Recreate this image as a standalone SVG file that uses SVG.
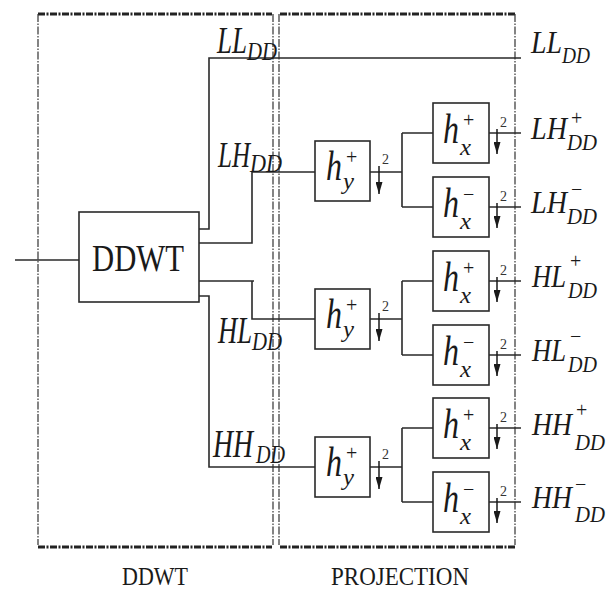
<svg xmlns="http://www.w3.org/2000/svg" width="610" height="591" viewBox="0 0 610 591">
<defs>
<marker id="down" viewBox="0 0 10 10" preserveAspectRatio="none" refX="10" refY="5" markerWidth="12" markerHeight="7" markerUnits="userSpaceOnUse" orient="auto"><path d="M0,0 L10,5 L0,10 z" fill="#1a1a1a"/></marker>
</defs>
<style>
.wire{fill:none;stroke:#2a2a2a;stroke-width:1.6}
.box{fill:#fff;stroke:#2a2a2a;stroke-width:1.6}
.fh{stroke:#222;stroke-width:3;stroke-dasharray:7 1.5 2 1.5;fill:none}
.fv{stroke:#333;stroke-width:1.2;stroke-dasharray:8 1.5 1.5 1.5;fill:none}
.it{font-family:"Liberation Serif","DejaVu Serif",serif;font-style:italic;fill:#1a1a1a}
.rm{font-family:"Liberation Serif","DejaVu Serif",serif;fill:#1a1a1a}
.up{font-style:normal}
.ds{stroke:#1a1a1a;stroke-width:1.5;marker-end:url(#down)}
.sm{font-family:"Liberation Serif","DejaVu Serif",serif;font-size:14px;fill:#333}
</style>
<rect width="610" height="591" fill="#fff"/>

<g id="frame-ddwt">
<line class="fh" x1="38" y1="14" x2="272" y2="14"/>
<line class="fh" x1="38" y1="547" x2="272" y2="547"/>
<line class="fv" x1="38" y1="14" x2="38" y2="545"/>
<line class="fv" x1="273" y1="14" x2="273" y2="545"/>
<text class="rm" x="122" y="585" font-size="25" textLength="66" lengthAdjust="spacingAndGlyphs">DDWT</text>
</g>
<g id="frame-projection">
<line class="fh" x1="280" y1="14" x2="515" y2="14"/>
<line class="fh" x1="280" y1="547" x2="515" y2="547"/>
<line class="fv" x1="279" y1="14" x2="279" y2="545"/>
<line class="fv" x1="515" y1="14" x2="515" y2="545"/>
<text class="rm" x="331" y="585" font-size="25" textLength="138" lengthAdjust="spacingAndGlyphs">PROJECTION</text>
</g>

<g id="connectors">
<path class="wire" d="M15,260 H79"/>
<path class="wire" d="M199,229 H209 V58 H521"/>
<path class="wire" d="M199,243 H252 V172 H315"/>
<path class="wire" d="M199,281 H254 M252,281 V319 H315"/>
<path class="wire" d="M199,296 H209 V467 H315"/>
<path class="wire" d="M370,172 H402 M402,133 V207 M402,133 H433 M402,207 H433"/>
<path class="wire" d="M489,133 H521 M489,207 H521"/>
<path class="wire" d="M370,319 H402 M402,281 V355 M402,281 H433 M402,355 H433"/>
<path class="wire" d="M489,281 H521 M489,355 H521"/>
<path class="wire" d="M370,467 H402 M402,428 V502 M402,428 H433 M402,502 H433"/>
<path class="wire" d="M489,428 H521 M489,502 H521"/>
<line class="ds" x1="379" y1="166" x2="379" y2="194"/><text class="sm" x="382" y="164">2</text>
<line class="ds" x1="379" y1="313" x2="379" y2="341"/><text class="sm" x="382" y="311">2</text>
<line class="ds" x1="379" y1="461" x2="379" y2="489"/><text class="sm" x="382" y="459">2</text>
<line class="ds" x1="497" y1="129" x2="497" y2="154"/><text class="sm" x="500" y="127">2</text>
<line class="ds" x1="497" y1="203" x2="497" y2="228"/><text class="sm" x="500" y="201">2</text>
<line class="ds" x1="497" y1="277" x2="497" y2="302"/><text class="sm" x="500" y="275">2</text>
<line class="ds" x1="497" y1="351" x2="497" y2="376"/><text class="sm" x="500" y="349">2</text>
<line class="ds" x1="497" y1="424" x2="497" y2="449"/><text class="sm" x="500" y="422">2</text>
<line class="ds" x1="497" y1="498" x2="497" y2="523"/><text class="sm" x="500" y="496">2</text>
</g>

<g id="ddwt">
<rect class="box" x="79" y="212" width="120" height="90"/>
<text class="rm" x="92" y="271" font-size="38" textLength="92" lengthAdjust="spacingAndGlyphs">DDWT</text>
</g>

<g id="hy-lh">
<rect class="box" x="315" y="141" width="55" height="60"/>
<text class="it"><tspan x="326" y="180" font-size="42" textLength="16" lengthAdjust="spacingAndGlyphs">h</tspan><tspan class="up" x="346" y="164" font-size="20">+</tspan><tspan x="343" y="189" font-size="24" textLength="11" lengthAdjust="spacingAndGlyphs">y</tspan></text>
</g>
<g id="hx-lh-plus">
<rect class="box" x="433" y="103" width="56" height="60"/>
<text class="it"><tspan x="443" y="143" font-size="42" textLength="16" lengthAdjust="spacingAndGlyphs">h</tspan><tspan class="up" x="463" y="127" font-size="20">+</tspan><tspan x="460" y="155" font-size="24" textLength="11" lengthAdjust="spacingAndGlyphs">x</tspan></text>
</g>
<g id="hx-lh-minus">
<rect class="box" x="433" y="177" width="56" height="60"/>
<text class="it"><tspan x="443" y="217" font-size="42" textLength="16" lengthAdjust="spacingAndGlyphs">h</tspan><tspan class="up" x="463" y="201" font-size="20">−</tspan><tspan x="460" y="229" font-size="24" textLength="11" lengthAdjust="spacingAndGlyphs">x</tspan></text>
</g>

<g id="hy-hl">
<rect class="box" x="315" y="289" width="55" height="60"/>
<text class="it"><tspan x="326" y="328" font-size="42" textLength="16" lengthAdjust="spacingAndGlyphs">h</tspan><tspan class="up" x="346" y="312" font-size="20">+</tspan><tspan x="343" y="337" font-size="24" textLength="11" lengthAdjust="spacingAndGlyphs">y</tspan></text>
</g>
<g id="hx-hl-plus">
<rect class="box" x="433" y="251" width="56" height="60"/>
<text class="it"><tspan x="443" y="291" font-size="42" textLength="16" lengthAdjust="spacingAndGlyphs">h</tspan><tspan class="up" x="463" y="275" font-size="20">+</tspan><tspan x="460" y="303" font-size="24" textLength="11" lengthAdjust="spacingAndGlyphs">x</tspan></text>
</g>
<g id="hx-hl-minus">
<rect class="box" x="433" y="325" width="56" height="60"/>
<text class="it"><tspan x="443" y="365" font-size="42" textLength="16" lengthAdjust="spacingAndGlyphs">h</tspan><tspan class="up" x="463" y="349" font-size="20">−</tspan><tspan x="460" y="377" font-size="24" textLength="11" lengthAdjust="spacingAndGlyphs">x</tspan></text>
</g>

<g id="hy-hh">
<rect class="box" x="315" y="437" width="55" height="60"/>
<text class="it"><tspan x="326" y="476" font-size="42" textLength="16" lengthAdjust="spacingAndGlyphs">h</tspan><tspan class="up" x="346" y="460" font-size="20">+</tspan><tspan x="343" y="485" font-size="24" textLength="11" lengthAdjust="spacingAndGlyphs">y</tspan></text>
</g>
<g id="hx-hh-plus">
<rect class="box" x="433" y="398" width="56" height="60"/>
<text class="it"><tspan x="443" y="438" font-size="42" textLength="16" lengthAdjust="spacingAndGlyphs">h</tspan><tspan class="up" x="463" y="422" font-size="20">+</tspan><tspan x="460" y="450" font-size="24" textLength="11" lengthAdjust="spacingAndGlyphs">x</tspan></text>
</g>
<g id="hx-hh-minus">
<rect class="box" x="433" y="472" width="56" height="60"/>
<text class="it"><tspan x="443" y="512" font-size="42" textLength="16" lengthAdjust="spacingAndGlyphs">h</tspan><tspan class="up" x="463" y="496" font-size="20">−</tspan><tspan x="460" y="524" font-size="24" textLength="11" lengthAdjust="spacingAndGlyphs">x</tspan></text>
</g>

<g id="labels-left">
<text class="it"><tspan x="217" y="53" font-size="38" textLength="30" lengthAdjust="spacingAndGlyphs">LL</tspan><tspan x="247" y="60" font-size="26" textLength="30" lengthAdjust="spacingAndGlyphs">DD</tspan></text>
<text class="it"><tspan x="218" y="167" font-size="36" textLength="32" lengthAdjust="spacingAndGlyphs">LH</tspan><tspan x="250" y="172" font-size="26" textLength="32" lengthAdjust="spacingAndGlyphs">DD</tspan></text>
<text class="it"><tspan x="218" y="343" font-size="38" textLength="34" lengthAdjust="spacingAndGlyphs">HL</tspan><tspan x="252" y="350" font-size="26" textLength="30" lengthAdjust="spacingAndGlyphs">DD</tspan></text>
<text class="it"><tspan x="213" y="457" font-size="40" textLength="40" lengthAdjust="spacingAndGlyphs">HH</tspan><tspan x="256" y="463" font-size="26" textLength="29" lengthAdjust="spacingAndGlyphs">DD</tspan></text>
</g>

<g id="labels-right">
<text class="it"><tspan x="531" y="53" font-size="32" textLength="31" lengthAdjust="spacingAndGlyphs">LL</tspan><tspan x="562" y="63" font-size="24" textLength="28" lengthAdjust="spacingAndGlyphs">DD</tspan></text>
<text class="it"><tspan x="531" y="139" font-size="32" textLength="36" lengthAdjust="spacingAndGlyphs">LH</tspan><tspan class="up" x="571" y="125" font-size="20">+</tspan><tspan x="567" y="150" font-size="24" textLength="30" lengthAdjust="spacingAndGlyphs">DD</tspan></text>
<text class="it"><tspan x="531" y="213" font-size="32" textLength="36" lengthAdjust="spacingAndGlyphs">LH</tspan><tspan class="up" x="571" y="196" font-size="20">−</tspan><tspan x="567" y="224" font-size="24" textLength="30" lengthAdjust="spacingAndGlyphs">DD</tspan></text>
<text class="it"><tspan x="532" y="287" font-size="32" textLength="34" lengthAdjust="spacingAndGlyphs">HL</tspan><tspan class="up" x="570" y="268" font-size="20">+</tspan><tspan x="568" y="298" font-size="24" textLength="29" lengthAdjust="spacingAndGlyphs">DD</tspan></text>
<text class="it"><tspan x="532" y="361" font-size="32" textLength="34" lengthAdjust="spacingAndGlyphs">HL</tspan><tspan class="up" x="570" y="343" font-size="20">−</tspan><tspan x="568" y="372" font-size="24" textLength="29" lengthAdjust="spacingAndGlyphs">DD</tspan></text>
<text class="it"><tspan x="532" y="435" font-size="32" textLength="40" lengthAdjust="spacingAndGlyphs">HH</tspan><tspan class="up" x="576" y="417" font-size="20">+</tspan><tspan x="575" y="450" font-size="24" textLength="30" lengthAdjust="spacingAndGlyphs">DD</tspan></text>
<text class="it"><tspan x="532" y="508" font-size="32" textLength="40" lengthAdjust="spacingAndGlyphs">HH</tspan><tspan class="up" x="575" y="491" font-size="20">−</tspan><tspan x="575" y="522" font-size="24" textLength="30" lengthAdjust="spacingAndGlyphs">DD</tspan></text>
</g>
</svg>
